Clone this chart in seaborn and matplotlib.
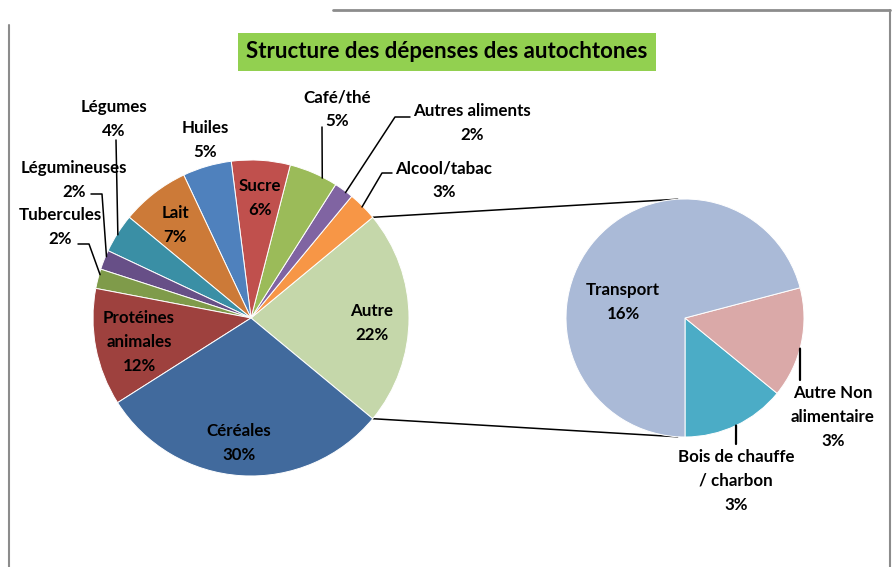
import numpy as np
import matplotlib
matplotlib.use("Agg")
import matplotlib.pyplot as plt
import seaborn as sns
from matplotlib.patches import Rectangle

# ---------------- data ----------------
main_labels = ["Autre", "Alcool/tabac", "Autres aliments", "Café/thé", "Sucre", "Huiles",
               "Lait", "Légumes", "Légumineuses", "Tubercules", "Protéines\nanimales", "Céréales"]
main_values = [22, 3, 2, 5, 6, 5, 7, 4, 2, 2, 12, 30]
main_colors = ["#C5D7AA", "#F79646", "#8064A2", "#9BBB59", "#C0504D", "#4F81BD",
               "#CC7A38", "#3A8FA5", "#674F87", "#7F9B4A", "#9E413E", "#416A9D"]

sub_labels = ["Bois de chauffe\n/ charbon", "Autre Non\nalimentaire", "Transport"]
sub_values = [3.1, 3.3, 15.6]
sub_colors = ["#4BACC6", "#DAA9A8", "#AABAD7"]

title = "Structure des dépenses des autochtones"

# ---------------- style / layout ----------------
sns.set_theme(style="white")
plt.rcParams['font.family'] = ['Lato', 'DejaVu Sans']

W, H = 893, 567
fig = plt.figure(figsize=(W / 100, H / 100), dpi=100)
fig.patch.set_facecolor("white")
ax = fig.add_axes([0, 0, 1, 1])


def P(x, y):
    return (x, H - y)


main_c = P(251, 318)
main_r = 158
sub_c = P(685, 318)
sub_r = 119

total = sum(main_values)
start = -main_values[0] / total * 360 / 2
wp = dict(edgecolor="white", linewidth=0.7)
wm, _ = ax.pie(main_values, colors=main_colors, startangle=start, center=main_c,
               radius=main_r, wedgeprops=wp)
ws, _ = ax.pie(sub_values, colors=sub_colors, startangle=270, center=sub_c,
               radius=sub_r, wedgeprops=wp)

ax.set_xlim(0, W)
ax.set_ylim(0, H)
ax.set_aspect("equal")
ax.axis("off")


def rim(center, r, ang):
    a = np.deg2rad(ang)
    return (center[0] + r * np.cos(a), center[1] + r * np.sin(a))


# connector lines between main "Autre" wedge and secondary pie
autre = wm[0]
p1 = rim(main_c, main_r, autre.theta2)
p2 = rim(main_c, main_r, autre.theta1)
q1 = rim(sub_c, sub_r, 93.5)
q2 = rim(sub_c, sub_r, 266.5)
ax.plot([p1[0], q1[0]], [p1[1], q1[1]], color="black", lw=1.1, zorder=0.5)
ax.plot([p2[0], q2[0]], [p2[1], q2[1]], color="black", lw=1.1, zorder=0.5)

# label positions (image pixel coords, block centers)
main_pos = {
    "Autre": (372, 323), "Alcool/tabac": (444, 180), "Autres aliments": (472, 123),
    "Café/thé": (337, 109), "Sucre": (260, 198), "Huiles": (205, 140),
    "Lait": (175, 225), "Légumes": (114, 119), "Légumineuses": (74, 180),
    "Tubercules": (60, 227), "Protéines\nanimales": (139, 342), "Céréales": (239, 443),
}
sub_pos = {
    "Transport": (623, 302), "Autre Non\nalimentaire": (833, 417),
    "Bois de chauffe\n/ charbon": (736, 481),
}

# leader lines: anchor angle on rim, then points toward label (image coords)
main_leaders = {
    "Légumes": (148, [(116, 140)]),
    "Légumineuses": (157, [(102, 194), (91, 194)]),
    "Tubercules": (164, [(89, 244), (78, 244)]),
    "Café/thé": (63, [(322, 127)]),
    "Autres aliments": (53, [(395, 117), (410, 117)]),
    "Alcool/tabac": (45, [(382, 173), (392, 173)]),
}
sub_leaders = {
    "Autre Non\nalimentaire": (345.1, [(800, 380)]),
    "Bois de chauffe\n/ charbon": (295.4, [(736, 444)]),
}

fs = 12.2
ls = 1.6
for lab, v in zip(main_labels, main_values):
    x, y = main_pos[lab]
    ax.text(*P(x, y), f"{lab}\n{round(v / total * 100)}%", ha="center", va="center",
            fontsize=fs, fontweight="bold", color="black", linespacing=ls, zorder=5)
    if lab in main_leaders:
        ang, pts = main_leaders[lab]
        r0 = rim(main_c, main_r - 1, ang)
        xs = [r0[0]] + [p[0] for p in pts]
        ys = [r0[1]] + [H - p[1] for p in pts]
        ax.plot(xs, ys, color="black", lw=1.1, zorder=4)

for lab, v in zip(sub_labels, sub_values):
    x, y = sub_pos[lab]
    ax.text(*P(x, y), f"{lab}\n{round(v / total * 100)}%", ha="center", va="center",
            fontsize=fs, fontweight="bold", color="black", linespacing=ls, zorder=5)
    if lab in sub_leaders:
        ang, pts = sub_leaders[lab]
        r0 = rim(sub_c, sub_r, ang)
        xs = [r0[0]] + [p[0] for p in pts]
        ys = [r0[1]] + [H - p[1] for p in pts]
        ax.plot(xs, ys, color="black", lw=1.6, zorder=4)

# title box
ax.add_patch(Rectangle(P(238, 71), 418, 38, facecolor="#92D050", edgecolor="none", zorder=3))
ax.text(*P(447, 52), title, ha="center", va="center", fontsize=16, fontweight="bold",
        color="black", zorder=5)

# frame lines
fc = "#8C8C8C"
ax.plot([9, 9], [H - 25, 0], color=fc, lw=1.5, zorder=1)
ax.plot([333, 890], [H - 10, H - 10], color=fc, lw=2.0, zorder=1)
ax.plot([890, 890], [H - 10, 0], color=fc, lw=1.5, zorder=1)

fig.savefig("out.png", dpi=100, facecolor="white")
